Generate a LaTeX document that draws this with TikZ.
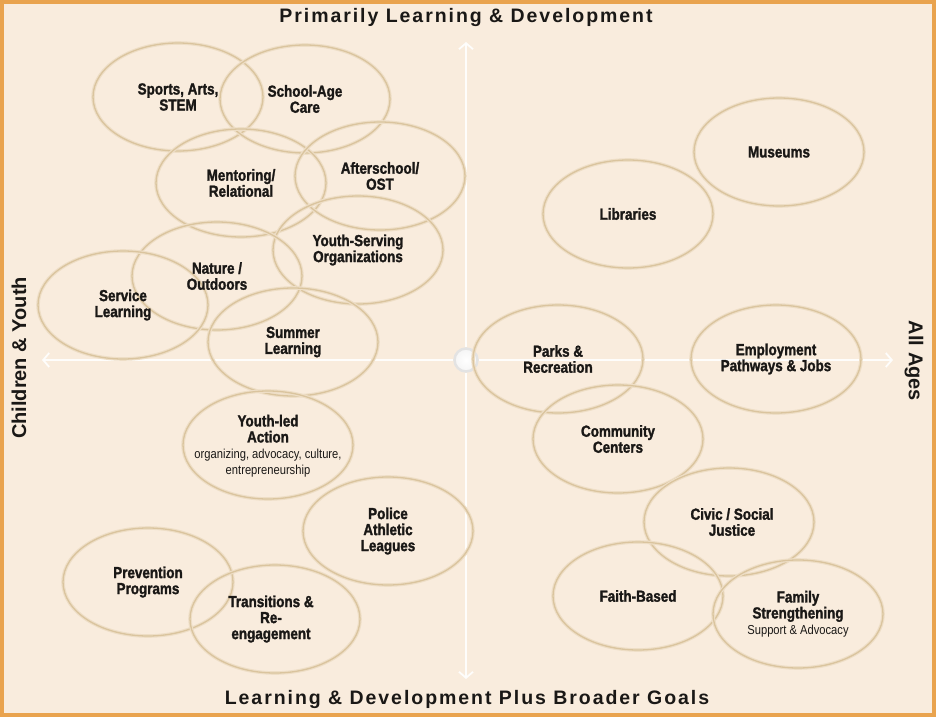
\documentclass[tikz,border=0pt]{standalone}
\usepackage{fontspec}
\setmainfont{Liberation Sans}
\newfontfamily\lblfamily{Liberation Sans}[FakeStretch=0.84,BoldFeatures={FakeBold=1.6}]
\newfontfamily\subfamily{Liberation Sans}[FakeStretch=0.86]
\newfontfamily\axisfamily{Liberation Sans}[LetterSpace=10]
\usetikzlibrary{shapes.geometric,arrows.meta}

\definecolor{paper}{RGB}{249,236,221}
\definecolor{frame}{RGB}{233,163,78}
\definecolor{ringcol}{RGB}{218,196,158}
\definecolor{ringsoft}{RGB}{238,222,198}
\definecolor{ink}{RGB}{26,24,22}

\newcommand{\sublbl}{\subfamily\mdseries\fontsize{13}{13}\selectfont}

\tikzset{
  zone/.style={ellipse, minimum width=170pt, minimum height=108pt, inner sep=0pt,
    draw=ringcol, line width=1.3pt, preaction={draw=ringsoft, line width=3.6pt}},
  lbl/.style={font=\lblfamily\bfseries\fontsize{16}{16}\selectfont, text=ink, align=center, inner sep=0pt},
  axis/.style={draw=white, line width=1.8pt, opacity=0.9},
  hub/.style={circle, minimum size=23pt, inner sep=0pt, inner color=white, outer color=white!92!gray, draw=gray!22, line width=2.5pt},
  axistitle/.style={font=\axisfamily\bfseries\fontsize{19.5}{22}\selectfont, text=ink},
  sidetitle/.style={font=\bfseries\fontsize{20}{22}\selectfont, text=ink},
}

\begin{document}
\begin{tikzpicture}[x=1pt,y=-1pt,>={Straight Barb[length=6pt,width=14pt]}]
\useasboundingbox (0,0) rectangle (936,717);
\fill[paper] (0,0) rectangle (936,717);
\draw[frame, line width=4.5pt] (2,2) rectangle (934,715);

% axes
\coordinate (top) at (466,42);
\coordinate (bottom) at (466,679);
\coordinate (west) at (42,360);
\coordinate (east) at (893,360);
\node[hub] (origin) at (466,360) {};
\draw[axis,->] (origin) -- (top);
\draw[axis,->] (origin) -- (bottom);
\draw[axis,->] (origin) -- (west);
\draw[axis,->] (origin) -- (east);

\node[axistitle] (ttl-top) at (466,18) {Primarily Learning \& Development};
\node[axistitle] (ttl-bottom) at (467,699) {Learning \& Development Plus Broader Goals};
\node[sidetitle, rotate=90] (ttl-left) at (19,358) {Children \& Youth};
\node[sidetitle, rotate=-90] (ttl-right) at (914,361) {All Ages};

% rings, children & youth side
\node[zone] (sports) at (178,97) {};
\node[zone] (schoolage) at (305,99) {};
\node[zone] (mentoring) at (241,183) {};
\node[zone] (afterschool) at (380,176) {};
\node[zone] (youthserving) at (358,250) {};
\node[zone] (nature) at (217,276) {};
\node[zone] (service) at (123,305) {};
\node[zone] (summer) at (293,342) {};
\node[zone] (youthled) at (268,445) {};
\node[zone] (police) at (388,531) {};
\node[zone] (prevention) at (148,582) {};
\node[zone] (transitions) at (275,619) {};
% rings, all ages side
\node[zone] (museums) at (779,152) {};
\node[zone] (libraries) at (628,214) {};
\node[zone] (parks) at (558,359) {};
\node[zone] (employment) at (776,359) {};
\node[zone] (community) at (618,439) {};
\node[zone] (civic) at (729,522) {};
\node[zone] (faith) at (638,596) {};
\node[zone] (family) at (798,614) {};

% labels
\node[lbl] (sports-txt) at (sports) {Sports, Arts,\\STEM};
\node[lbl] (schoolage-txt) at (schoolage) {School-Age\\Care};
\node[lbl] (mentoring-txt) at (mentoring) {Mentoring/\\Relational};
\node[lbl] (afterschool-txt) at (afterschool) {Afterschool/\\OST};
\node[lbl] (youthserving-txt) at (youthserving) {Youth-Serving\\Organizations};
\node[lbl] (nature-txt) at (nature) {Nature /\\Outdoors};
\node[lbl] (service-txt) at (service) {Service\\Learning};
\node[lbl] (summer-txt) at (summer) {Summer\\Learning};
\node[lbl] (youthled-txt) at ([yshift=-1pt]youthled) {Youth-led\\Action\\\sublbl organizing, advocacy, culture,\\\sublbl entrepreneurship};
\node[lbl] (police-txt) at (police) {Police\\Athletic\\Leagues};
\node[lbl] (prevention-txt) at (prevention) {Prevention\\Programs};
\node[lbl] (transitions-txt) at ([xshift=-4pt]transitions) {Transitions \&\\Re-\\engagement};
\node[lbl] (museums-txt) at (museums) {Museums};
\node[lbl] (libraries-txt) at (libraries) {Libraries};
\node[lbl] (parks-txt) at (parks) {Parks \&\\Recreation};
\node[lbl] (employment-txt) at (employment) {Employment\\Pathways \& Jobs};
\node[lbl] (community-txt) at (community) {Community\\Centers};
\node[lbl] (civic-txt) at ([xshift=3pt]civic) {Civic / Social\\Justice};
\node[lbl] (faith-txt) at (faith) {Faith-Based};
\node[lbl] (family-txt) at (family) {Family\\Strengthening\\\sublbl Support \& Advocacy};
\end{tikzpicture}
\end{document}
